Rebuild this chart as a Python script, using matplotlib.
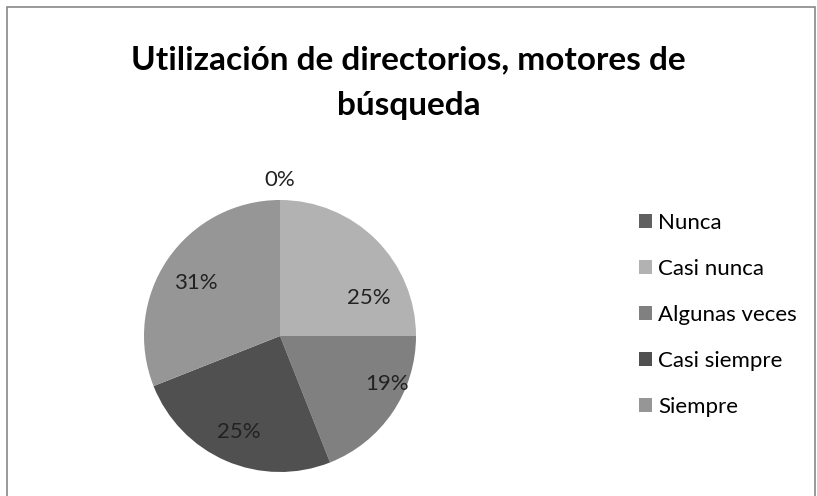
import numpy as np
import matplotlib.pyplot as plt
from matplotlib.patches import Rectangle

categories = ["Nunca", "Casi nunca", "Algunas veces", "Casi siempre", "Siempre"]
values = [0, 25, 19, 25, 31]
colors = ["#606060", "#b2b2b2", "#808080", "#505050", "#969696"]

# label placement tweaks (radius fraction, angle shift in degrees), like Excel best fit
label_r = [1.15, 0.71, 0.86, 0.77, 0.73]
label_shift = [0, -22, 10, 0, 2]

plt.rcParams["font.family"] = ["Lato", "DejaVu Sans"]

fig = plt.figure(figsize=(8.17, 4.96), dpi=100)
fig.patches.append(Rectangle((6.5 / 817, -0.1), 808 / 817, 1.1 - 6.5 / 496,
                             transform=fig.transFigure, fill=False,
                             edgecolor="#878787", linewidth=1.2))

fig.text(0.5, 1 - 60 / 496, "Utilización de directorios, motores de",
         ha="center", va="center", fontsize=24, fontweight="bold", color="black")
fig.text(0.5, 1 - 105 / 496, "búsqueda",
         ha="center", va="center", fontsize=24, fontweight="bold", color="black")

ax = fig.add_axes([144 / 817, 24 / 496, 272 / 817, 272 / 496])
wedges, _ = ax.pie(values, colors=colors, startangle=90, counterclock=False,
                   radius=1, wedgeprops=dict(linewidth=0))
ax.set_xlim(-1, 1)
ax.set_ylim(-1, 1)
ax.set_aspect("equal")

for w, v, r, s in zip(wedges, values, label_r, label_shift):
    mid = np.deg2rad((w.theta1 + w.theta2) / 2 + s)
    ax.text(r * np.cos(mid), r * np.sin(mid), f"{v}%", ha="center", va="center",
            fontsize=16, color="#222222")

handles = [Rectangle((0, 0), 1, 1, facecolor=c) for c in colors]
fig.legend(handles, categories, loc="upper left", bbox_to_anchor=(639 / 817, 1 - 213 / 496),
           frameon=False, fontsize=16, handlelength=0.6, handleheight=0.6,
           handletextpad=0.25, labelspacing=1.17, borderpad=0, borderaxespad=0)

fig.savefig("out.png", dpi=100)
